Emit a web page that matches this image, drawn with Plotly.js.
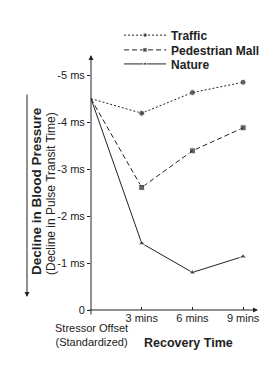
<!DOCTYPE html>
<html>
<head>
<meta charset="utf-8">
<script src="https://cdn.plot.ly/plotly-3.0.1.min.js"></script>
<style>
html,body{margin:0;padding:0;background:#fff;}
#chart{width:279px;height:373px;}
</style>
</head>
<body>
<div id="chart"></div>
<script>
// Data
const recoveryMinutes = [0, 3, 6, 9];
const trafficValues = [-4.5, -4.19, -4.63, -4.85];
const pedestrianMallValues = [-4.5, -2.61, -3.39, -3.88];
const natureValues = [-4.5, -1.42, -0.80, -1.14];
const seriesNames = ["Traffic", "Pedestrian Mall", "Nature"];

const xTickVals = [3, 6, 9];
const xTickText = ["3 mins", "6 mins", "9 mins"];
const yTickVals = [-5, -4, -3, -2, -1, 0];
const yTickText = ["-5 ms", "-4 ms", "-3 ms", "-2 ms", "-1 ms", "0"];

const FONT = "Liberation Sans, Arial, sans-serif";
const INK = "#222";
const markerSizes = [0, 6, 6, 6];

const traces = [
  {
    x: recoveryMinutes, y: trafficValues, name: seriesNames[0],
    type: "scatter", mode: "lines+markers",
    line: {color: INK, width: 1, dash: "2px,2px"},
    marker: {symbol: "circle", size: markerSizes, color: INK},
    legend: "legend"
  },
  {
    x: recoveryMinutes, y: pedestrianMallValues, name: seriesNames[1],
    type: "scatter", mode: "lines+markers",
    line: {color: INK, width: 1, dash: "5px,3px"},
    marker: {symbol: "square", size: markerSizes, color: INK},
    legend: "legend2"
  },
  {
    x: recoveryMinutes, y: natureValues, name: seriesNames[2],
    type: "scatter", mode: "lines+markers",
    line: {color: INK, width: 1},
    marker: {symbol: "triangle-up", size: markerSizes, color: INK},
    legend: "legend3"
  }
];

function legendAt(y) {
  return {
    x: 0.168, y: y, xanchor: "left", yanchor: "middle",
    bgcolor: "rgba(0,0,0,0)", borderwidth: 0,
    itemwidth: 42,
    font: {family: FONT, size: 12, color: INK, weight: "bold"}
  };
}

const layout = {
  width: 279, height: 373,
  margin: {l: 91, r: 21, t: 55, b: 63},
  paper_bgcolor: "#fff", plot_bgcolor: "#fff",
  showlegend: true,
  legend: legendAt(1.078),
  legend2: legendAt(1.02),
  legend3: legendAt(0.965),
  xaxis: {
    range: [0, 9.88], showgrid: false, zeroline: false, showline: false,
    tickvals: xTickVals, ticktext: xTickText,
    ticks: "inside", ticklen: 3, tickcolor: INK, tickwidth: 1,
    tickfont: {family: FONT, size: 11, color: INK}
  },
  yaxis: {
    range: [0, -5.43], showgrid: false, zeroline: false, showline: false,
    tickvals: yTickVals, ticktext: yTickText,
    ticks: "outside", ticklen: 3, tickcolor: INK, tickwidth: 1,
    tickfont: {family: FONT, size: 11, color: INK}
  },
  annotations: [
    // y axis arrow
    {x: 0, y: -5.43, xref: "x", yref: "y", ax: 0, ay: 261,
     text: "", showarrow: true, arrowhead: 2, arrowsize: 1, arrowwidth: 1, arrowcolor: INK, standoff: 0},
    // x axis arrow
    {x: 9.88, y: 0, xref: "x", yref: "y", ax: -170, ay: 0,
     text: "", showarrow: true, arrowhead: 2, arrowsize: 1, arrowwidth: 1, arrowcolor: INK, standoff: 0},
    // left down arrow
    {x: (27 - 91) / 167, y: (310 - 297) / 255, xref: "paper", yref: "paper", ax: 0, ay: -204,
     text: "", showarrow: true, arrowhead: 2, arrowsize: 1, arrowwidth: 1, arrowcolor: INK, standoff: 0},
    // y titles
    {x: (36 - 91) / 167, y: (310 - 191) / 255, xref: "paper", yref: "paper", xanchor: "center", yanchor: "middle",
     text: "<b>Decline in Blood Pressure</b>", textangle: -90, showarrow: false,
     font: {family: FONT, size: 13.5, color: INK}},
    {x: (51 - 91) / 167, y: (310 - 194) / 255, xref: "paper", yref: "paper", xanchor: "center", yanchor: "middle",
     text: "(Decline in Pulse Transit Time)", textangle: -90, showarrow: false,
     font: {family: FONT, size: 12, color: INK}},
    // Stressor offset label
    {x: 0, y: (310 - 335) / 255, xref: "x", yref: "paper", xanchor: "center", yanchor: "middle",
     text: "Stressor Offset<br>(Standardized)", showarrow: false,
     font: {family: FONT, size: 11, color: INK}},
    // x title
    {x: (188 - 91) / 167, y: (310 - 343) / 255, xref: "paper", yref: "paper", xanchor: "center", yanchor: "middle",
     text: "<b>Recovery Time</b>", showarrow: false,
     font: {family: FONT, size: 12.5, color: INK}}
  ]
};

Plotly.newPlot("chart", traces, layout, {displayModeBar: false, staticPlot: true});
</script>
</body>
</html>
